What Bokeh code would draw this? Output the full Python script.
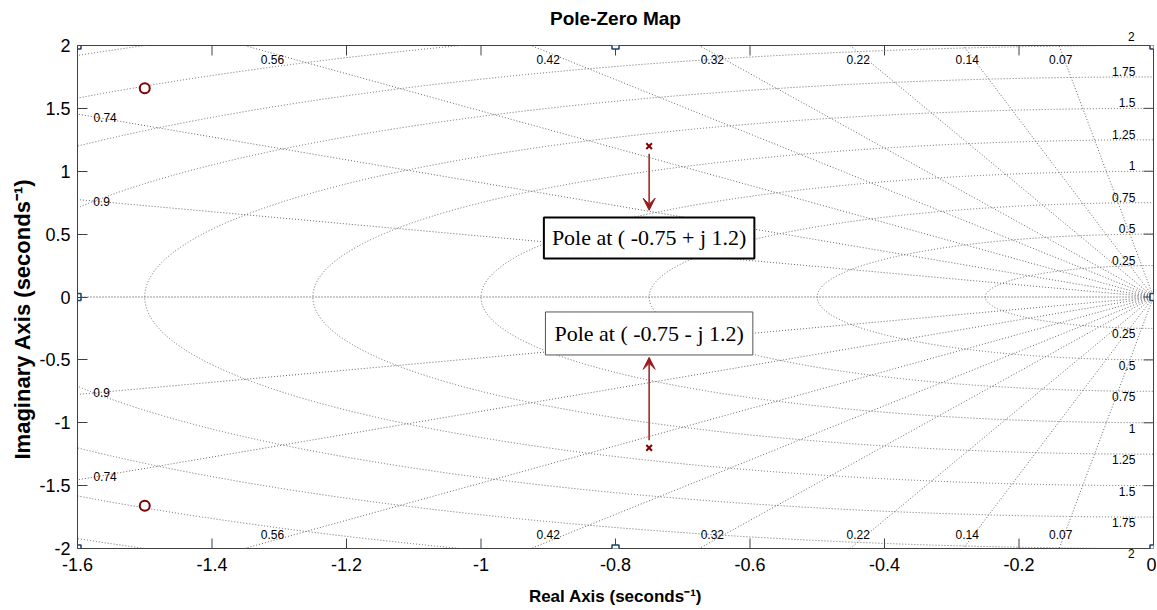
import numpy as np
from bokeh.plotting import figure
from bokeh.models import (ColumnDataSource, LabelSet, Label, Arrow, VeeHead,
                          LinearAxis, FixedTicker, Range1d, Title)
from bokeh.core.properties import value
from bokeh.embed import file_html
from bokeh.resources import INLINE

# ---------------- data ----------------
pole_re = [-0.75, -0.75]
pole_im = [1.2, -1.2]
zero_re = [-1.5, -1.5]
zero_im = [1.66, -1.66]

zeta_values = [0.07, 0.14, 0.22, 0.32, 0.42, 0.56, 0.74, 0.9]
wn_values = [0.25, 0.5, 0.75, 1.0, 1.25, 1.5, 1.75, 2.0, 2.25, 2.5]
wn_label_values = [0.25, 0.5, 0.75, 1.0, 1.25, 1.5, 1.75]
wn_label_text = ["0.25", "0.5", "0.75", "1", "1.25", "1.5", "1.75"]
wn_edge_label = "2"          # the outermost frequency label, sits just outside the frame
wn_label_x = -0.027
wn_edge_label_x = -0.033

zeta_label_text = ["0.56", "0.42", "0.32", "0.22", "0.14", "0.07", "0.74", "0.9"]
zeta_label_x = [-1.31, -0.90, -0.656, -0.439, -0.277, -0.138, -1.559, -1.564]
zeta_label_y = [1.89, 1.89, 1.89, 1.89, 1.89, 1.89, 1.43, 0.762]

edge_marker_x = [-1.6, -0.8, 0.0, -1.6, 0.0, -1.6, -0.8, 0.0]
edge_marker_y = [2.0, 2.0, 2.0, 0.0, 0.0, -2.0, -2.0, -2.0]

x_ticks = [-1.6, -1.4, -1.2, -1.0, -0.8, -0.6, -0.4, -0.2, 0.0]
y_ticks = [-2.0, -1.5, -1.0, -0.5, 0.0, 0.5, 1.0, 1.5, 2.0]
x_tick_labels = ["-1.6", "-1.4", "-1.2", "-1", "-0.8", "-0.6", "-0.4", "-0.2", "0"]
y_tick_labels = ["-2", "-1.5", "-1", "-0.5", "0", "0.5", "1", "1.5", "2"]
x_min, x_max = -1.6, 0.0
y_min, y_max = -2.0, 2.0

annot_text = ["Pole at ( -0.75 + j 1.2)", "Pole at ( -0.75 - j 1.2)"]
annot_y = [0.47, -0.29]
arrow_start_y = [1.14, -1.14]
arrow_end_y = [0.69, -0.48]

# ---------------- styles ----------------
SANS = "Liberation Sans"
SERIF = "Liberation Serif"
GRID_C = "#666666"
RED = "#800000"
ARROW_C = "#9b1b1b"
AX_C = "#404040"
FRAME_W, FRAME_H = 1076, 504
TICK_PX = 10

p = figure(width=1156, height=608,
           min_border_left=77, min_border_top=45, min_border_right=3, min_border_bottom=59,
           x_range=Range1d(x_min, x_max), y_range=Range1d(y_min, y_max),
           output_backend="svg", toolbar_location=None,
           title="Pole-Zero Map")
p.xgrid.visible = False
p.ygrid.visible = False
p.outline_line_color = AX_C
p.outline_line_width = 1
p.background_fill_color = "white"
p.border_fill_color = "white"

p.title.align = "center"
p.title.text_font = SANS
p.title.text_font_size = "19px"
p.title.text_font_style = "bold"
p.title.text_color = "black"
p.title.standoff = 0

# ---- y axis (left, adjacent to frame) ----
yax = p.yaxis[0]
yax.ticker = FixedTicker(ticks=y_ticks)
yax.major_label_overrides = {t: l for t, l in zip(y_ticks, y_tick_labels)}
yax.major_tick_in = TICK_PX
yax.major_tick_out = 0
yax.minor_tick_in = 0
yax.minor_tick_out = 0
yax.axis_line_color = AX_C
yax.major_tick_line_color = AX_C
yax.major_label_text_font = SANS
yax.major_label_text_font_size = "18px"
yax.major_label_text_color = "black"
yax.major_label_standoff = 7

p.add_layout(Title(text="Imaginary Axis (seconds\u207b\u00b9)", align="left", offset=89,
                   text_font=SANS, text_font_size="22px", text_font_style="bold",
                   text_color="black", standoff=3), "left")

# ---- x axis: a row with the outer "2" label right under the frame, then tick labels ----
xax = p.xaxis[0]
xax.ticker = FixedTicker(ticks=x_ticks)
xax.major_label_overrides = {t: l for t, l in zip(x_ticks, x_tick_labels)}
xax.major_tick_in = 0
xax.major_tick_out = 0
xax.minor_tick_in = 0
xax.minor_tick_out = 0
xax.axis_line_color = None
xax.major_tick_line_color = None
xax.major_label_text_font = SANS
xax.major_label_text_font_size = "18px"
xax.major_label_text_color = "black"
xax.major_label_standoff = -3
xax.axis_label = "Real Axis (seconds\u207b\u00b9)"
xax.axis_label_text_font = SANS
xax.axis_label_text_font_size = "17px"
xax.axis_label_text_font_style = "bold"
xax.axis_label_text_color = "black"
xax.axis_label_standoff = 13

def edge_label_axis(standoff):
    return LinearAxis(ticker=FixedTicker(ticks=[wn_edge_label_x]),
                      major_label_overrides={wn_edge_label_x: wn_edge_label},
                      major_tick_in=0, major_tick_out=0, minor_tick_in=0, minor_tick_out=0,
                      axis_line_color=None, major_tick_line_color=None,
                      major_label_text_font=SANS, major_label_text_font_size="12px",
                      major_label_text_color="black", major_label_standoff=standoff)

bottom_two = edge_label_axis(0)
p.below = [bottom_two, xax]
top_two = edge_label_axis(5)
p.add_layout(top_two, "above")

# inward ticks on the top, bottom and right edges (10 px long, converted to data units)
dy_tick = (y_max - y_min) * TICK_PX / FRAME_H
dx_tick = (x_max - x_min) * TICK_PX / FRAME_W
xt = np.array(x_ticks)
yt = np.array(y_ticks)
p.segment(x0=xt, y0=np.full(len(xt), y_max), x1=xt, y1=np.full(len(xt), y_max - dy_tick),
          line_color=AX_C, line_width=1)
p.segment(x0=xt, y0=np.full(len(xt), y_min), x1=xt, y1=np.full(len(xt), y_min + dy_tick),
          line_color=AX_C, line_width=1)
p.segment(x0=np.full(len(yt), x_max), y0=yt, x1=np.full(len(yt), x_max - dx_tick), y1=yt,
          line_color=AX_C, line_width=1)

# ---------------- s-plane grid ----------------
R = 4.0
z = np.array(zeta_values)
wd = np.sqrt(1 - z ** 2)
x1 = np.concatenate([-z * R, -z * R])
y1 = np.concatenate([wd * R, -wd * R])
p.segment(x0=np.zeros_like(x1), y0=np.zeros_like(y1), x1=x1, y1=y1,
          line_color=GRID_C, line_dash="1 2", line_width=1)
p.segment(x0=[0.0], y0=[0.0], x1=[-R], y1=[0.0], line_color="#333333", line_dash="1 2", line_width=1)

wn = np.array(wn_values)
p.ellipse(x=np.zeros_like(wn), y=np.zeros_like(wn), width=2 * wn, height=2 * wn,
          fill_color=None, line_color=GRID_C, line_dash="1 2", line_width=1)

# frequency labels (right side, inside the frame)
for wv, wt in zip(wn_label_values, wn_label_text):
    p.add_layout(Label(x=wn_label_x, y=wv, text=wt, text_align="right", text_baseline="bottom",
                       y_offset=1, text_font=SANS, text_font_size="12px", text_color="black"))
    p.add_layout(Label(x=wn_label_x, y=-wv, text=wt, text_align="right", text_baseline="top",
                       y_offset=-1, text_font=SANS, text_font_size="12px", text_color="black"))

# damping labels
zx = np.array(zeta_label_x)
zy = np.array(zeta_label_y)
src_z = ColumnDataSource(dict(x=np.concatenate([zx, zx]), y=np.concatenate([zy, -zy]),
                              t=zeta_label_text + zeta_label_text))
p.add_layout(LabelSet(x="x", y="y", text="t", source=src_z, text_align="center",
                      text_baseline="middle", text_font=value(SANS), text_font_size="12px",
                      text_color="black"))

# ---------------- poles / zeros ----------------
p.scatter(x=zero_re, y=zero_im, marker="circle", size=10, line_color=RED, line_width=2,
          fill_color="white")
p.scatter(x=pole_re, y=pole_im, marker="x", size=8, line_color=RED, line_width=2)

# edge markers
p.scatter(x=edge_marker_x, y=edge_marker_y, marker="square", size=7, line_color="#1d3f63",
          line_width=1.5, fill_color="white")

# ---------------- annotations ----------------
for i in range(2):
    p.add_layout(Arrow(x_start=pole_re[i], y_start=arrow_start_y[i], x_end=pole_re[i],
                       y_end=arrow_end_y[i], line_color=ARROW_C, line_width=1.5,
                       end=VeeHead(size=12, line_color=ARROW_C, fill_color=ARROW_C)))

p.add_layout(Label(x=pole_re[0], y=annot_y[0], text=annot_text[0], text_font=SERIF,
                   text_font_size="22px", text_align="center", text_baseline="middle",
                   text_color="black", border_line_color="black", border_line_width=2,
                   background_fill_color="white", padding=8))
p.add_layout(Label(x=pole_re[1], y=annot_y[1], text=annot_text[1], text_font=SERIF,
                   text_font_size="22px", text_align="center", text_baseline="middle",
                   text_color="black", border_line_color="#555555", border_line_width=1,
                   background_fill_color="white", padding=9))

open("out.html", "w").write(file_html(p, INLINE))
